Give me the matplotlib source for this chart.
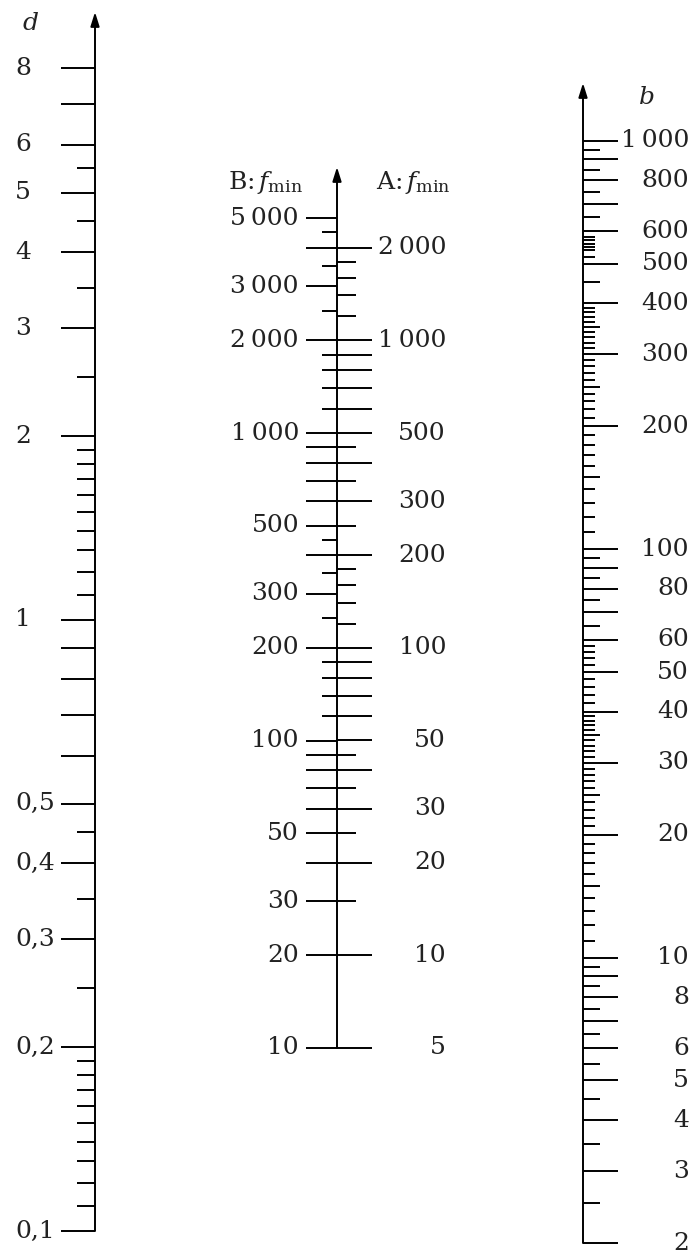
import math
import matplotlib
matplotlib.use("Agg")
import matplotlib.pyplot as plt
import matplotlib.transforms as mtransforms

plt.rcParams['font.family'] = ['DejaVu Serif']
plt.rcParams['mathtext.fontset'] = 'dejavuserif'

# ---------------- data ----------------
# d scale (left)
d_long = [8, 7, 6, 5, 4, 3, 2, 1, 0.9, 0.8, 0.7, 0.6, 0.5, 0.4, 0.3, 0.2, 0.1]
d_short = [5.5, 4.5, 3.5, 2.5, 1.9, 1.8, 1.7, 1.6, 1.5, 1.4, 1.3, 1.2, 1.1,
           0.45, 0.35, 0.25, 0.19, 0.18, 0.17, 0.16, 0.15, 0.14, 0.13, 0.12, 0.11]
d_labels = [8, 6, 5, 4, 3, 2, 1, 0.5, 0.4, 0.3, 0.2, 0.1]

# B: f_min scale (centre, left side)
B_long = [10, 20, 30, 40, 50, 60, 70, 80, 90, 100, 200, 300, 400, 500, 600, 700,
          800, 900, 1000, 2000, 3000, 4000, 5000]
B_short = [120, 140, 160, 180, 250, 350, 450, 1200, 1400, 1600, 1800, 2500, 3500, 4500]
B_labels = [10, 20, 30, 50, 100, 200, 300, 500, 1000, 2000, 3000, 5000]

# A: f_min scale (centre, right side)
A_long = [5, 10, 20, 30, 40, 50, 60, 70, 80, 90, 100, 200, 300, 400, 500, 600, 700,
          800, 900, 1000, 2000]
A_short = [15, 25, 35, 45, 120, 140, 160, 180, 250, 350, 450, 1200, 1400, 1600, 1800]
A_labels = [5, 10, 20, 30, 50, 100, 200, 300, 500, 1000, 2000]

# b scale (right)
b_long = [2, 3, 4, 5, 6, 7, 8, 9, 10, 20, 30, 40, 50, 60, 70, 80, 90, 100,
          200, 300, 400, 500, 600, 700, 800, 900, 1000]
b_short = [2.5, 3.5, 4.5, 5.5, 6.5, 7.5, 8.5, 9.5, 15, 25, 35, 65, 75, 85, 95,
           150, 250, 350, 450, 650, 750, 850, 950]
b_tiny = [11, 12, 13, 14, 16, 17, 18, 19,
          21, 22, 23, 24, 26, 27, 28, 29,
          31, 32, 33, 34, 36, 37, 38, 39,
          42, 44, 46, 48, 52, 54, 56, 58,
          110, 120, 130, 140, 160, 170, 180, 190,
          210, 220, 230, 240, 260, 270, 280, 290,
          310, 320, 330, 340, 360, 370, 380, 390,
          520, 540, 550, 560, 570, 580]
b_labels = [2, 3, 4, 5, 6, 8, 10, 20, 30, 40, 50, 60, 80, 100, 200, 300, 400,
            500, 600, 800, 1000]


def fmt(v):
    if v < 1:
        return ('%g' % v).replace('.', ',')
    s = '%d' % round(v)
    if len(s) > 3:
        s = s[:-3] + '\u2009' + s[-3:]
    return s


W, H = 696, 1254
fig = plt.figure(figsize=(W / 100, H / 100), dpi=100)
FS = 18
LW = 1.4
TXT = '#222222'


def make_axes(axis_x, x0, x1, y_top, y_lo_px, lo_val, y_ref_px, ref_val):
    """Log axis whose value lo_val sits at pixel y_lo_px and ref_val at y_ref_px."""
    decade = (y_lo_px - y_ref_px) / math.log10(ref_val / lo_val)
    hi_val = lo_val * 10 ** ((y_lo_px - y_top) / decade)
    ax = fig.add_axes([x0 / W, (H - y_lo_px) / H, (x1 - x0) / W, (y_lo_px - y_top) / H])
    ax.set_yscale('log')
    ax.set_ylim(lo_val, hi_val)
    ax.set_xlim(x0 - axis_x, x1 - axis_x)
    ax.axis('off')
    return ax


def spine_arrow(ax):
    tr = mtransforms.blended_transform_factory(ax.transData, ax.transAxes)
    ax.annotate('', xy=(0, 1), xytext=(0, 0), xycoords=tr, textcoords=tr,
                arrowprops=dict(arrowstyle='-|>,head_length=0.7,head_width=0.22',
                                mutation_scale=12, lw=LW, color='k',
                                shrinkA=0, shrinkB=0))


def ticks(ax, vals, x_from, x_to):
    ax.hlines(vals, x_from, x_to, color='k', lw=LW, clip_on=False)


# ---- d axis ----
ax_d = make_axes(95, 0, 100, 12, 1231, 0.1, 620, 1)
spine_arrow(ax_d)
ticks(ax_d, d_long, -34, 0)
ticks(ax_d, d_short, -18, 0)
for v in d_labels:
    ax_d.text(-80, v, fmt(v), ha='left', va='center', fontsize=FS, color=TXT)
fig.text(31 / W, 1 - 24 / H, 'd', style='italic', fontsize=FS, ha='center', va='center', color=TXT)

# ---- B / A axis ----
ax_B = make_axes(337, 200, 470, 167, 1048, 10, 433, 1000)
spine_arrow(ax_B)
ticks(ax_B, B_long, -31, 0)
ticks(ax_B, B_short, -15, 0)
for v in B_labels:
    ax_B.text(-38, v, fmt(v), ha='right', va='center', fontsize=FS, color=TXT)

loB, hiB = ax_B.get_ylim()
ax_A = fig.add_axes(ax_B.get_position())
ax_A.set_yscale('log')
ax_A.set_ylim(loB / 2, hiB / 2)
ax_A.set_xlim(ax_B.get_xlim())
ax_A.axis('off')
ticks(ax_A, A_long, 0, 35)
ticks(ax_A, A_short, 0, 19)
for v in A_labels:
    ax_A.text(109, v, fmt(v), ha='right', va='center', fontsize=FS, color=TXT)

fig.text(303 / W, 1 - 182 / H, r'B:$\,f_{\mathrm{min}}$', ha='right', va='center', fontsize=FS, color=TXT)
fig.text(376 / W, 1 - 182 / H, r'A:$\,f_{\mathrm{min}}$', ha='left', va='center', fontsize=FS, color=TXT)

# ---- b axis ----
ax_b = make_axes(583, 570, 696, 83, 1243, 2, 140.7, 1000)
spine_arrow(ax_b)
ticks(ax_b, b_long, 0, 35)
ticks(ax_b, b_short, 0, 17)
ticks(ax_b, b_tiny, 0, 12)
for v in b_labels:
    ax_b.text(106, v, fmt(v), ha='right', va='center', fontsize=FS, color=TXT)
fig.text(647 / W, 1 - 97 / H, 'b', style='italic', fontsize=FS, ha='center', va='center', color=TXT)

fig.savefig('out.png', dpi=100, facecolor='white')
